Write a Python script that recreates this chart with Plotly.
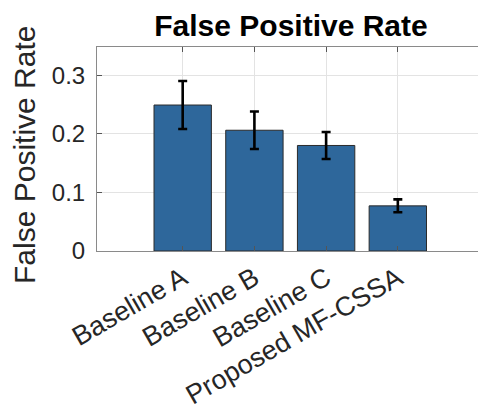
import plotly.graph_objects as go

# Mean false positive rate per method, with one-sided spread for error bars
methods = ["Baseline A", "Baseline B", "Baseline C", "Proposed MF-CSSA"]
fpr_mean = [0.249, 0.206, 0.180, 0.077]
fpr_err = [0.041, 0.032, 0.023, 0.011]
y_ticks = [0, 0.1, 0.2, 0.3]
y_tick_text = ["0", "0.1", "0.2", "0.3"]

positions = list(range(1, len(methods) + 1))

FONT = "Liberation Sans, Arial, Helvetica, sans-serif"
BAR_COLOR = "#2e679b"
GRID = "#e3e3e3"
AXIS = "#8a8a8a"

fig = go.Figure()
fig.add_trace(
    go.Bar(
        x=positions,
        y=fpr_mean,
        width=0.8,
        marker=dict(color=BAR_COLOR, line=dict(color="#2b2b2b", width=1)),
        error_y=dict(
            type="data",
            array=fpr_err,
            visible=True,
            color="black",
            thickness=2.6,
            width=4.5,
        ),
        showlegend=False,
    )
)

fig.update_layout(
    width=478,
    height=411,
    margin=dict(l=97, r=0, t=47, b=160),
    paper_bgcolor="white",
    plot_bgcolor="white",
    font=dict(family=FONT, color="#262626"),
    bargap=0.2,
    title=dict(
        text="<b>False Positive Rate</b>",
        x=291 / 478,
        xanchor="center",
        y=1 - 25 / 411,
        yanchor="middle",
        font=dict(family=FONT, size=30, color="black"),
    ),
    xaxis=dict(
        range=[-0.195, 5.118],
        automargin=False,
        tickmode="array",
        tickvals=positions,
        ticktext=methods,
        tickangle=-30,
        tickfont=dict(size=27, color="#262626"),
        showgrid=True,
        gridcolor=GRID,
        gridwidth=1,
        showline=True,
        linecolor=AXIS,
        linewidth=1,
        mirror="ticks",
        ticks="inside",
        ticklen=5,
        tickcolor="#555555",
        zeroline=False,
    ),
    yaxis=dict(
        range=[0, 0.348],
        automargin=False,
        tickmode="array",
        tickvals=y_ticks,
        ticktext=y_tick_text,
        tickfont=dict(size=24, color="#262626"),
        showgrid=True,
        gridcolor=GRID,
        gridwidth=1,
        showline=True,
        linecolor=AXIS,
        linewidth=1,
        ticks="inside",
        ticklen=5,
        tickcolor="#555555",
        ticklabelstandoff=6,
        zeroline=False,
    ),
    annotations=[
        dict(
            text="False Positive Rate",
            textangle=-90,
            xref="paper",
            yref="paper",
            x=(24 - 97) / 381,
            y=(251 - 155) / 204,
            xanchor="center",
            yanchor="middle",
            showarrow=False,
            font=dict(family=FONT, size=30, color="#262626"),
        )
    ],
)

fig.write_html("out.html")
